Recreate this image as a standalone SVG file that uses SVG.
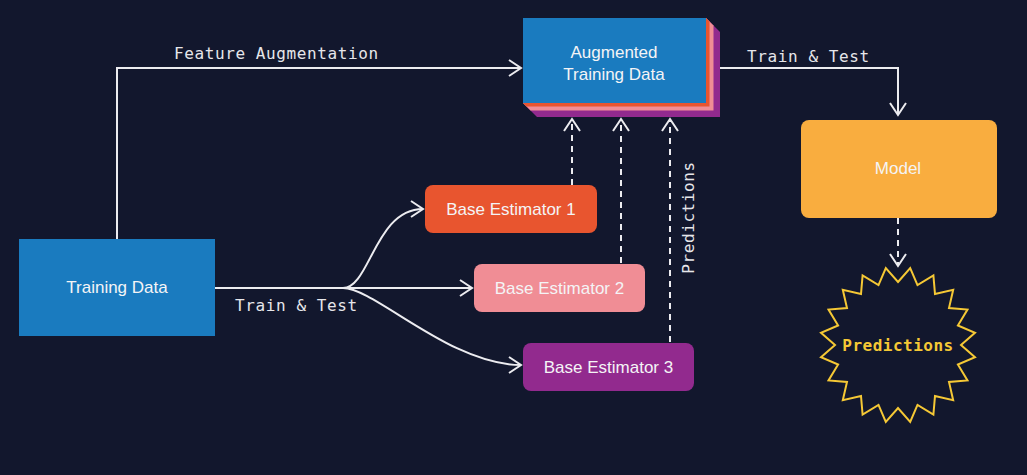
<svg xmlns="http://www.w3.org/2000/svg" width="1027" height="475" viewBox="0 0 1027 475">
<defs>
<style>
.bg{fill:#12172d}
.lbl{font-family:"Liberation Sans",Arial,sans-serif;font-size:17px;fill:#f4f4f6;text-anchor:middle}
.mono{font-family:"DejaVu Sans Mono","Liberation Mono",monospace;font-size:16px;letter-spacing:0.6px;fill:#e6e6ea}
.ln{fill:none;stroke:#ececf0;stroke-width:2}
.dash{fill:none;stroke:#ececf0;stroke-width:2;stroke-dasharray:6 5}
</style>
<marker id="arr" markerUnits="userSpaceOnUse" markerWidth="20" markerHeight="20" viewBox="-14 -10 16 20" refX="0" refY="0" orient="auto">
<path d="M-12,-8 L0,0 L-12,8" fill="none" stroke="#ececf0" stroke-width="2"/>
</marker>
</defs>
<rect class="bg" x="0" y="0" width="1027" height="475"/>

<g id="connectors">
<path class="ln" d="M117,239 V68 H521" marker-end="url(#arr)"/>
<path class="ln" d="M215,288 H472" marker-end="url(#arr)"/>
<path class="ln" d="M343,288 C370,288 375,209 423,209" marker-end="url(#arr)"/>
<path class="ln" d="M343,288 C375,288 450,365 521,365" marker-end="url(#arr)"/>
<path class="dash" d="M572,185 V119" marker-end="url(#arr)"/>
<path class="dash" d="M621,263 V119" marker-end="url(#arr)"/>
<path class="dash" d="M670,342 V119" marker-end="url(#arr)"/>
<path class="ln" d="M720,68 H898 V115" marker-end="url(#arr)"/>
<path class="dash" d="M898,218 V266" marker-end="url(#arr)"/>
<text class="mono" x="174" y="59">Feature Augmentation</text>
<text class="mono" x="747" y="62">Train &amp; Test</text>
<text class="mono" x="235" y="311">Train &amp; Test</text>
<text class="mono" transform="translate(694,217.5) rotate(-90)" text-anchor="middle">Predictions</text>
</g>

<g id="training-data">
<rect x="19" y="239" width="196" height="97" fill="#1a7bbf"/>
<text class="lbl" x="117" y="293">Training Data</text>
</g>

<g id="augmented-training-data">
<polygon points="523,18 706,18 720,32 720,117 537,117 523,103" fill="#922a8e"/>
<polygon points="523,18 706,18 713.5,25.5 713.5,110.5 530.5,110.5 523,103" fill="#f08d95"/>
<polygon points="523,18 706,18 709.5,21.5 709.5,106.5 526.5,106.5 523,103" fill="#e8552f"/>
<rect x="523" y="18" width="183" height="85" fill="#1a7bbf"/>
<text class="lbl" x="614" y="58">Augmented</text>
<text class="lbl" x="614" y="80">Training Data</text>
</g>

<g id="base-estimator-1">
<rect x="425" y="185" width="172" height="48" rx="8" fill="#e8552f"/>
<text class="lbl" x="511" y="215">Base Estimator 1</text>
</g>

<g id="base-estimator-2">
<rect x="474" y="264" width="171" height="48" rx="8" fill="#f08d95"/>
<text class="lbl" x="559.5" y="294">Base Estimator 2</text>
</g>

<g id="base-estimator-3">
<rect x="523" y="343" width="171" height="48" rx="8" fill="#922a8e"/>
<text class="lbl" x="608.5" y="373">Base Estimator 3</text>
</g>

<g id="model">
<rect x="801" y="120" width="196" height="98" rx="8" fill="#f9ad3f"/>
<text class="lbl" x="898" y="174">Model</text>
</g>

<g id="predictions">
<polygon fill="none" stroke="#f5c835" stroke-width="2" points="898,282 910.2,268 917.5,285.1 933.4,275.5 935,294 953.2,289.8 949,308 967.5,309.6 957.9,325.5 975,332.8 961,345 975,357.2 957.9,364.5 967.5,380.4 949,382 953.2,400.2 935,396 933.4,414.5 917.5,404.9 910.2,422 898,408 885.8,422 878.5,404.9 862.6,414.5 861,396 842.8,400.2 847,382 828.5,380.4 838.1,364.5 821,357.2 835,345 821,332.8 838.1,325.5 828.5,309.6 847,308 842.8,289.8 861,294 862.6,275.5 878.5,285.1 885.8,268"/>
<text x="898" y="351" text-anchor="middle" font-family="DejaVu Sans Mono,Liberation Mono,monospace" font-size="16" font-weight="bold" letter-spacing="0.5" fill="#f5c835">Predictions</text>
</g>
</svg>
